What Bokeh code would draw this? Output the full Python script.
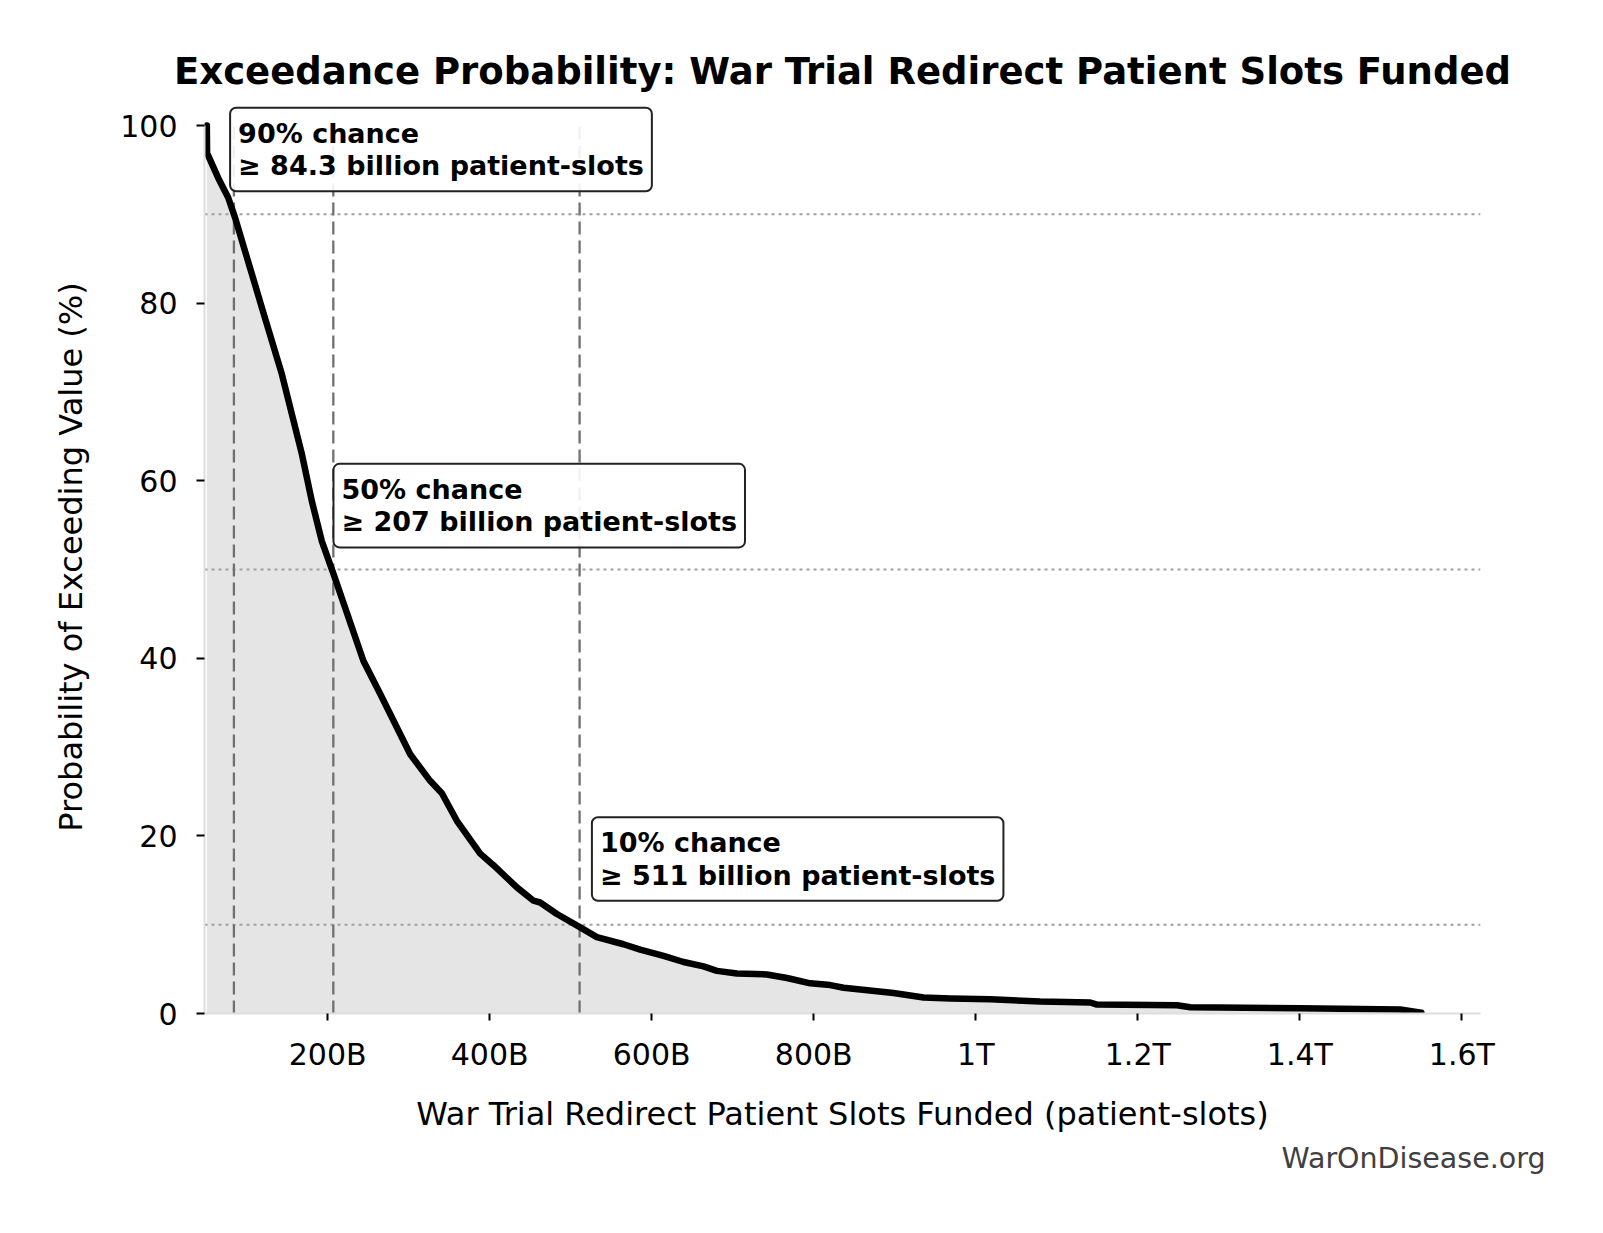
from bokeh.plotting import figure
from bokeh.models import Range1d, FixedTicker, Label, Title
from bokeh.embed import file_html
from bokeh.resources import INLINE

# ---- data (x in billions of patient-slots, y in % probability of exceeding) ----
slots_billions = [50.9, 51.2, 64.9, 77.2, 85.8, 118.8, 143.5, 168.2, 180.5, 192.8,
                  207.2, 244.2, 264.8, 301.9, 326.5, 341.0, 359.5, 388.3, 404.7,
                  433.6, 454.1, 462.3, 483.0, 511.8, 532.3, 565.2, 585.8, 614.6,
                  639.3, 664.0, 680.5, 705.2, 742.2, 767.0, 795.7, 820.4, 836.8,
                  898.5, 935.6, 968.6, 1017.9, 1079.6, 1141.3, 1149.6, 1248.4,
                  1264.8, 1400.6, 1524.0, 1550.0]
exceed_pct = [100.0, 96.9, 94.1, 91.9, 89.6, 79.5, 72.0, 63.0, 57.7, 53.2,
              49.5, 39.7, 36.0, 29.2, 26.2, 24.8, 21.7, 18.0, 16.7,
              14.2, 12.7, 12.5, 11.2, 9.7, 8.6, 7.8, 7.2, 6.5,
              5.8, 5.3, 4.8, 4.5, 4.4, 4.0, 3.4, 3.2, 2.9,
              2.3, 1.8, 1.7, 1.6, 1.35, 1.24, 1.0, 0.93,
              0.7, 0.6, 0.45, 0.1]

x_ticks = [200, 400, 600, 800, 1000, 1200, 1400, 1600]
x_tick_labels = ["200B", "400B", "600B", "800B", "1T", "1.2T", "1.4T", "1.6T"]
y_ticks = [0, 20, 40, 60, 80, 100]

pct_levels = [90, 50, 10]
pct_values = [84.3, 207, 511]
box_texts = ["90% chance\n\u2265 84.3 billion patient-slots",
             "50% chance\n\u2265 207 billion patient-slots",
             "10% chance\n\u2265 511 billion patient-slots"]
box_x = [79.6, 207.2, 526.2]
box_y = [102.0, 61.9, 22.1]

x_min, x_max = 48, 1623
y_min, y_max = 0, 100
y_view_top = 102.82   # a little head-room above 100 so the top box is not clipped

FONT = "DejaVu Sans"

p = figure(width=1603, height=1233, output_backend="svg", toolbar_location=None,
           x_range=Range1d(x_min, x_max), y_range=Range1d(y_min, y_view_top),
           min_border_left=204, min_border_right=123, min_border_top=100,
           min_border_bottom=220)

p.title.text = "Exceedance Probability: War Trial Redirect Patient Slots Funded"
p.title.text_font = FONT
p.title.text_font_size = "37px"
p.title.text_font_style = "bold"
p.title.text_color = "black"
p.title.align = "center"
p.title.standoff = 16

p.outline_line_color = None
p.grid.visible = False
p.background_fill_color = "white"
p.border_fill_color = "white"

# fill under curve
p.varea(x=slots_billions, y1=[0] * len(slots_billions), y2=exceed_pct,
        fill_color="#e5e5e5")

# reference lines
for lvl in pct_levels:
    p.segment(x0=[x_min], y0=[lvl], x1=[x_max], y1=[lvl],
              line_color="#a0a0a0", line_width=2, line_dash="3 4")
for v in pct_values:
    p.segment(x0=[v], y0=[y_min], x1=[v], y1=[y_max],
              line_color="#707070", line_width=2.3, line_dash="13 6")

# curve
p.line(x=slots_billions, y=exceed_pct, line_color="black", line_width=6.5,
       line_join="round", line_cap="round")

# axes
p.xaxis.ticker = FixedTicker(ticks=x_ticks)
p.xaxis.major_label_overrides = {t: l for t, l in zip(x_ticks, x_tick_labels)}
p.yaxis.ticker = FixedTicker(ticks=y_ticks)
p.yaxis.bounds = (y_min, y_max)
p.xaxis.axis_label = "War Trial Redirect Patient Slots Funded (patient-slots)"
p.yaxis.axis_label = "Probability of Exceeding Value (%)"
for ax in (p.xaxis[0], p.yaxis[0]):
    ax.axis_label_text_font = FONT
    ax.axis_label_text_font_size = "32px"
    ax.axis_label_text_font_style = "normal"
    ax.axis_label_text_color = "black"
    ax.major_label_text_font = FONT
    ax.major_label_text_font_size = "30px"
    ax.major_label_text_color = "black"
    ax.major_tick_in = 0
    ax.major_tick_line_color = "black"
    ax.major_tick_line_width = 2
    ax.minor_tick_line_color = None
    ax.axis_line_color = "#dddddd"
    ax.axis_line_width = 2
p.xaxis.major_tick_out = 7
p.yaxis.major_tick_out = 8
p.xaxis.major_label_standoff = 16
p.yaxis.major_label_standoff = 19
p.xaxis.axis_label_standoff = 20
p.yaxis.axis_label_standoff = 27

# annotation boxes
for bx, by, txt in zip(box_x, box_y, box_texts):
    p.add_layout(Label(x=bx, y=by, text=txt, text_font=FONT,
                       text_font_size="27px", text_font_style="bold",
                       text_color="black", text_align="left",
                       text_baseline="top", text_line_height=1.05,
                       background_fill_color="white", background_fill_alpha=0.9,
                       border_line_color="#222222", border_line_width=2,
                       border_radius=6, padding=(8, 10)))

# watermark
p.add_layout(Title(text="WarOnDisease.org", align="right", text_font=FONT,
                   text_font_size="28.5px", text_font_style="normal",
                   text_color="#404040", offset=-65, standoff=8), "below")

open("out.html", "w").write(file_html(p, INLINE))
